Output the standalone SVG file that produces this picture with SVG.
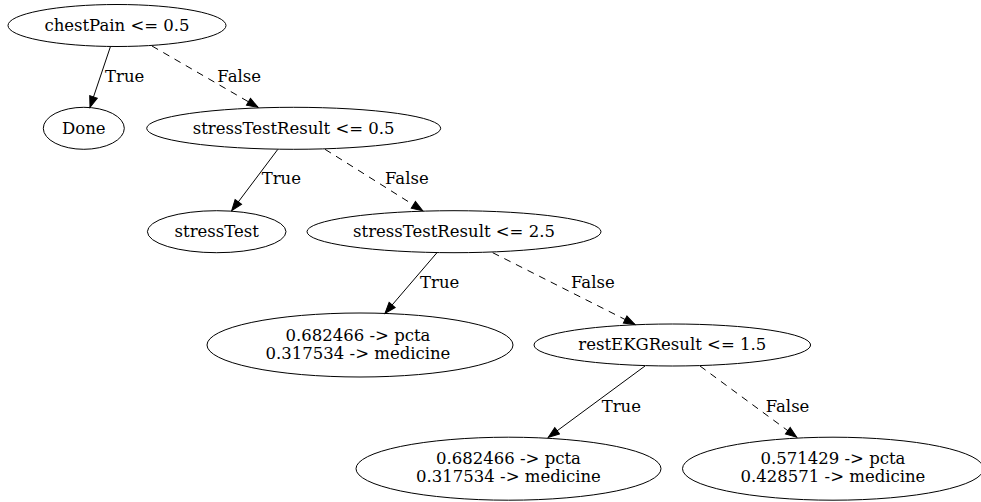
<svg xmlns="http://www.w3.org/2000/svg" width="981" height="502" viewBox="0 0 981 502">
<defs>
<style>
.node ellipse{fill:none;stroke:#000;stroke-width:1}
text{font-family:"DejaVu Serif","Liberation Serif",serif;font-size:16.5px;fill:#000}
.node text{text-anchor:middle}
.edge line{stroke:#000;stroke-width:1;fill:none}
.edge line.f{stroke-dasharray:7,6}
</style>
<marker id="ah" markerUnits="userSpaceOnUse" markerWidth="14" markerHeight="12" refX="12" refY="5" orient="auto">
<path d="M1,1 L12,5 L1,9 z" fill="#000" stroke="#000" stroke-width="1"/>
</marker>
</defs>
<rect width="981" height="502" fill="#fff"/>
<g id="edges" class="edge">
<line x1="110.3" y1="47" x2="90" y2="107.3" marker-end="url(#ah)"/>
<text x="105" y="81.7">True</text>
<line class="f" x1="152" y1="46" x2="258" y2="107.3" marker-end="url(#ah)"/>
<text x="217.3" y="81.7">False</text>
<line x1="277.7" y1="149.5" x2="231.7" y2="210.7" marker-end="url(#ah)"/>
<text x="261.7" y="184.3">True</text>
<line class="f" x1="325" y1="149.3" x2="422.7" y2="210.7" marker-end="url(#ah)"/>
<text x="385" y="184.3">False</text>
<line x1="436.7" y1="253" x2="385" y2="313.3" marker-end="url(#ah)"/>
<text x="420" y="288.3">True</text>
<line class="f" x1="492.7" y1="252.7" x2="635" y2="324.5" marker-end="url(#ah)"/>
<text x="571" y="287.7">False</text>
<line x1="645" y1="366" x2="548.3" y2="437.3" marker-end="url(#ah)"/>
<text x="601.7" y="411.7">True</text>
<line class="f" x1="700" y1="366" x2="796.7" y2="437.2" marker-end="url(#ah)"/>
<text x="765.7" y="411.7">False</text>
</g>
<g id="n0" class="node"><ellipse cx="117" cy="25.5" rx="109" ry="21"/><text x="117" y="31">chestPain &lt;= 0.5</text></g>
<g id="n1" class="node"><ellipse cx="83.8" cy="128.3" rx="40.5" ry="21"/><text x="83.8" y="133.5">Done</text></g>
<g id="n2" class="node"><ellipse cx="293.7" cy="128.3" rx="147" ry="21"/><text x="293.7" y="133.5">stressTestResult &lt;= 0.5</text></g>
<g id="n3" class="node"><ellipse cx="216.7" cy="231.7" rx="69.3" ry="21"/><text x="216.7" y="237">stressTest</text></g>
<g id="n4" class="node"><ellipse cx="454" cy="231.7" rx="147" ry="21"/><text x="454" y="237">stressTestResult &lt;= 2.5</text></g>
<g id="n5" class="node"><ellipse cx="360" cy="345" rx="153" ry="32"/><text x="358" y="340.7">0.682466 -&gt; pcta</text><text x="358" y="358.7">0.317534 -&gt; medicine</text></g>
<g id="n6" class="node"><ellipse cx="672.3" cy="345" rx="138.3" ry="21"/><text x="672.3" y="350">restEKGResult &lt;= 1.5</text></g>
<g id="n7" class="node"><ellipse cx="508.5" cy="468.7" rx="152.5" ry="31.5"/><text x="508.5" y="464.4">0.682466 -&gt; pcta</text><text x="508.5" y="482.4">0.317534 -&gt; medicine</text></g>
<g id="n8" class="node"><ellipse cx="833" cy="468.7" rx="150.5" ry="31.5"/><text x="833" y="464.4">0.571429 -&gt; pcta</text><text x="833" y="482.4">0.428571 -&gt; medicine</text></g>
</svg>
